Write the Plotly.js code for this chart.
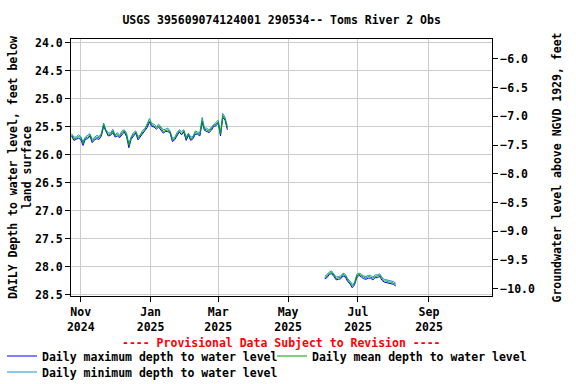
<!DOCTYPE html>
<html>
<head>
<meta charset="utf-8">
<script src="https://cdn.plot.ly/plotly-3.0.1.min.js"></script>
<style>
html,body{margin:0;padding:0;background:#fff;}
#chart{width:576px;height:384px;}
</style>
</head>
<body>
<div id="chart"></div>
<script>
// Segment 1: daily values (read every 2nd day) from 2024-10-24
var start1 = '2024-10-24';
var mean1 = [25.64,25.71,25.70,25.67,25.69,25.79,25.70,25.68,25.64,25.75,25.71,25.68,25.69,25.64,25.46,25.57,25.63,25.63,25.57,25.66,25.63,25.67,25.60,25.57,25.64,25.83,25.70,25.63,25.59,25.70,25.66,25.59,25.55,25.48,25.39,25.46,25.48,25.51,25.48,25.52,25.58,25.56,25.55,25.59,25.73,25.71,25.63,25.57,25.61,25.57,25.71,25.63,25.71,25.69,25.60,25.61,25.63,25.39,25.54,25.55,25.58,25.53,25.47,25.45,25.41,25.63,25.30,25.36,25.52];
var max1 = [25.66,25.74,25.72,25.70,25.72,25.83,25.72,25.71,25.66,25.78,25.73,25.71,25.72,25.66,25.49,25.59,25.66,25.65,25.60,25.68,25.66,25.69,25.63,25.59,25.67,25.87,25.72,25.66,25.61,25.73,25.68,25.62,25.57,25.51,25.41,25.49,25.50,25.54,25.50,25.55,25.61,25.58,25.58,25.61,25.76,25.73,25.66,25.59,25.64,25.59,25.74,25.65,25.74,25.71,25.63,25.63,25.66,25.42,25.56,25.58,25.60,25.56,25.49,25.48,25.43,25.66,25.33,25.38,25.55];
var min1 = [25.62,25.68,25.68,25.64,25.67,25.76,25.68,25.65,25.62,25.72,25.69,25.65,25.67,25.61,25.43,25.55,25.60,25.61,25.54,25.64,25.60,25.65,25.57,25.55,25.61,25.80,25.68,25.60,25.57,25.67,25.64,25.56,25.53,25.45,25.35,25.44,25.45,25.49,25.45,25.50,25.55,25.54,25.52,25.57,25.70,25.69,25.60,25.55,25.58,25.55,25.68,25.61,25.68,25.67,25.57,25.59,25.60,25.33,25.52,25.52,25.56,25.50,25.45,25.42,25.38,25.61,25.26,25.33,25.49];

// Segment 2: from 2025-06-02, every 2nd day
var start2 = '2025-06-02';
var mean2 = [28.19,28.16,28.11,28.10,28.14,28.21,28.19,28.19,28.13,28.16,28.23,28.28,28.34,28.30,28.16,28.13,28.16,28.18,28.20,28.17,28.18,28.20,28.17,28.16,28.15,28.21,28.25,28.25,28.27,28.27,28.29,28.31];
var max2 = [28.21,28.19,28.13,28.12,28.17,28.23,28.22,28.21,28.16,28.18,28.26,28.30,28.37,28.32,28.19,28.15,28.18,28.21,28.22,28.20,28.20,28.23,28.19,28.19,28.17,28.24,28.27,28.28,28.29,28.30,28.31,28.34];
var min2 = [28.17,28.13,28.09,28.07,28.12,28.18,28.17,28.16,28.11,28.13,28.21,28.25,28.31,28.28,28.13,28.11,28.13,28.16,28.17,28.15,28.15,28.18,28.14,28.14,28.12,28.19,28.22,28.23,28.24,28.25,28.26,28.29];

var seriesNames = ['Daily maximum depth to water level','Daily mean depth to water level','Daily minimum depth to water level'];
var titleText = 'USGS 395609074124001 290534-- Toms River 2 Obs';
var noteText = '---- Provisional Data Subject to Revision ----';

function dates(startStr, step, n){
  var out=[]; var d=new Date(startStr+'T00:00:00Z');
  for(var i=0;i<n;i++){ var t=new Date(d.getTime()+i*step*86400000); out.push(t.toISOString().slice(0,10)); }
  return out;
}
var d1 = dates(start1,2,mean1.length), d2 = dates(start2,2,mean2.length);
var X = d1.concat([null]).concat(d2);
function join(a,b){ return a.concat([null]).concat(b); }

var FONT = 'DejaVu Sans Mono, Liberation Mono, monospace';
var f = {family:FONT, size:11.5, color:'#000', weight:'bold'};

var traces = [
  {x:X, y:join(max1,max2), name:seriesNames[0], legend:'legend', type:'scatter', mode:'lines', line:{color:'#0000ff',width:1}, connectgaps:false},
  {x:X, y:join(min1,min2), name:seriesNames[2], legend:'legend3', type:'scatter', mode:'lines', line:{color:'#1e90c8',width:1}, connectgaps:false},
  {x:X, y:join(mean1,mean2), name:seriesNames[1], legend:'legend2', type:'scatter', mode:'lines', line:{color:'#00a000',width:1}, connectgaps:false},
  {x:[], y:[], yaxis:'y2', showlegend:false, hoverinfo:'skip', type:'scatter', mode:'lines'}
];

function leg(xpx, ypx){
  return {orientation:'h', x:(xpx-71)/421, xanchor:'left', y:(296-ypx)/257, yanchor:'middle', font:f,
    bgcolor:'rgba(0,0,0,0)', borderwidth:0, itemwidth:30};
}

var layout = {
  width:576, height:384,
  margin:{l:71, r:84, t:39, b:88, autoexpand:false},
  paper_bgcolor:'#fff', plot_bgcolor:'#fff',
  font:f,
  showlegend:true,
  title:{text:titleText, font:f, x:0.489, xanchor:'center', y:0.948, yanchor:'middle'},
  xaxis:{type:'date', range:['2024-10-23T12:00','2025-10-26'], tick0:'2024-11-01', dtick:'M2', tickformat:'%b<br>%Y',
    showgrid:true, gridcolor:'#cccccc', gridwidth:1, showline:true, linecolor:'#000', linewidth:1, mirror:true,
    ticks:'outside', ticklen:5, tickcolor:'#000', tickfont:f, zeroline:false},
  yaxis:{range:[28.518,23.929], tick0:24, dtick:0.5, tickformat:'.1f', showgrid:true, gridcolor:'#cccccc',
    showline:true, linecolor:'#000', linewidth:1, mirror:true, ticks:'outside', ticklen:5, tickcolor:'#000', tickfont:f, zeroline:false,
    title:{text:'DAILY Depth to water level, feet below<br>land surface', font:f, standoff:0}},
  yaxis2:{overlaying:'y', side:'right', range:[-10.127,-5.652], tick0:-6, dtick:0.5, tickformat:'.1f', showgrid:false,
    ticks:'outside', ticklen:5, tickcolor:'#000', tickfont:f, zeroline:false, showline:false,
    title:{text:'Groundwater level above NGVD 1929, feet', font:f, standoff:18}},
  legend:leg(2,356),
  legend2:leg(272,356),
  legend3:leg(2,372),
  annotations:[{text:noteText, xref:'paper', yref:'paper', x:0.5, y:(296-343)/257, xanchor:'center', yanchor:'middle', showarrow:false,
    font:{family:FONT, size:11.5, color:'#ff0000', weight:'bold'}}]
};
Plotly.newPlot('chart', traces, layout, {staticPlot:true, displayModeBar:false});
</script>
</body>
</html>
